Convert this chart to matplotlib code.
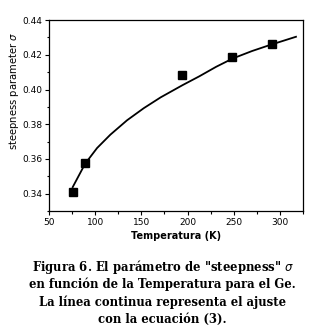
import matplotlib
matplotlib.use("Agg")
import matplotlib.pyplot as plt
from matplotlib.ticker import MultipleLocator

# measured points (squares)
temp_pts = [76, 89, 194.5, 248.5, 291]
sigma_pts = [0.341, 0.3575, 0.4083, 0.4187, 0.4262]

# fit curve
temp_fit = [75.6, 89.1, 102, 116.4, 134.5, 152.7, 170.9, 194.5, 212.7, 231, 249, 270, 289, 317.5]
sigma_fit = [0.3438, 0.3573, 0.3663, 0.3740, 0.3823, 0.3893, 0.3955, 0.4025, 0.4076, 0.4131, 0.4179, 0.4222, 0.4256, 0.4304]

x_ticks = [50, 100, 150, 200, 250, 300]
y_ticks = [0.34, 0.36, 0.38, 0.40, 0.42, 0.44]

caption = ["Figura 6. El parámetro de \"steepness\" $\\sigma$",
           "en función de la Temperatura para el Ge.",
           "La línea continua representa el ajuste",
           "con la ecuación (3)."]

fig = plt.figure(figsize=(3.25, 3.35), dpi=100)
ax = fig.add_axes([0.151, 0.370, 0.781, 0.570])

ax.plot(temp_fit, sigma_fit, color="black", linewidth=1.3)
ax.plot(temp_pts, sigma_pts, "s", color="black", markersize=6)

ax.set_xlim(50, 325)
ax.set_ylim(0.33, 0.44)
ax.set_xticks(x_ticks)
ax.set_yticks(y_ticks)
ax.set_yticklabels(["%.2f" % v for v in y_ticks])
ax.xaxis.set_minor_locator(MultipleLocator(25))
ax.yaxis.set_minor_locator(MultipleLocator(0.01))
ax.tick_params(which="both", direction="out", labelsize=6.5, width=0.8, pad=2)
ax.tick_params(which="major", length=3)
ax.tick_params(which="minor", length=1.8)
for s in ax.spines.values():
    s.set_linewidth(0.9)

ax.set_xlabel("Temperatura (K)", fontsize=7, fontweight="bold", labelpad=3)
ax.set_ylabel("steepness parameter $\\sigma$", fontsize=7.2)
ax.yaxis.set_label_coords(-0.11, 0.63)

y0 = 1 - 267 / 335
for i, line in enumerate(caption):
    fig.text(0.5, y0 - i * 17.5 / 335, line, ha="center", va="center",
             fontsize=8.4, family="DejaVu Serif", fontweight="bold")

fig.savefig("out.png", dpi=100)
